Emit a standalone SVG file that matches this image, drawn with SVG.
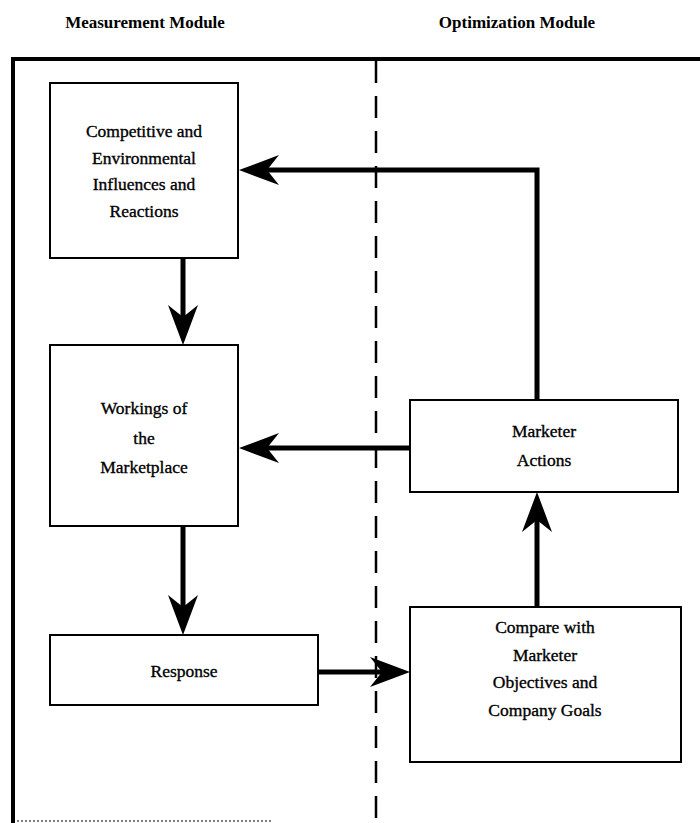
<svg xmlns="http://www.w3.org/2000/svg" width="700" height="823" viewBox="0 0 700 823">
<defs>
<style>
.t{font-family:"Liberation Serif","Times New Roman",serif;font-size:17.5px;fill:#000;stroke:#000;stroke-width:0.35;text-anchor:middle}
.h{font-family:"Liberation Serif","Times New Roman",serif;font-size:17px;font-weight:bold;fill:#000;text-anchor:middle}
.box{fill:#fff;stroke:#000;stroke-width:2}
.c{fill:none;stroke:#000;stroke-width:5}
</style>
<marker id="ah" markerUnits="userSpaceOnUse" viewBox="0 0 40 40" markerWidth="40" markerHeight="40" refX="20" refY="20" orient="auto">
<path d="M40,20 L0,5 L12,20 L0,35 Z" fill="#000"/>
</marker>
</defs>
<rect width="700" height="823" fill="#fff"/>
<g id="headers">
<text class="h" x="145" y="28">Measurement Module</text>
<text class="h" x="517" y="28">Optimization Module</text>
</g>
<g id="frame">
<line x1="11" y1="59" x2="700" y2="59" stroke="#000" stroke-width="4"/>
<line x1="13" y1="57" x2="13" y2="823" stroke="#000" stroke-width="4"/>
<line x1="376" y1="61" x2="376" y2="823" stroke="#000" stroke-width="2.5" stroke-dasharray="22,13"/>
<line x1="13" y1="821" x2="272" y2="821" stroke="#000" stroke-width="1" stroke-dasharray="2,2"/>
</g>
<g id="competitive">
<rect class="box" x="50" y="83" width="188" height="175"/>
<text class="t" x="144" y="137">Competitive and</text>
<text class="t" x="144" y="164">Environmental</text>
<text class="t" x="144" y="190">Influences and</text>
<text class="t" x="144" y="217">Reactions</text>
</g>
<g id="workings">
<rect class="box" x="50" y="345" width="188" height="181"/>
<text class="t" x="144" y="414">Workings of</text>
<text class="t" x="144" y="444">the</text>
<text class="t" x="144" y="473">Marketplace</text>
</g>
<g id="response">
<rect class="box" x="50" y="635" width="268" height="70"/>
<text class="t" x="184" y="677">Response</text>
</g>
<g id="marketer-actions">
<rect class="box" x="410" y="400" width="268" height="92"/>
<text class="t" x="544" y="437">Marketer</text>
<text class="t" x="544" y="466">Actions</text>
</g>
<g id="compare">
<rect class="box" x="410" y="607" width="271" height="155"/>
<text class="t" x="545" y="633">Compare with</text>
<text class="t" x="545" y="661">Marketer</text>
<text class="t" x="545" y="688">Objectives and</text>
<text class="t" x="545" y="716">Company Goals</text>
</g>
<g id="connectors">
<line class="c" x1="183" y1="259" x2="183" y2="325" marker-end="url(#ah)"/>
<line class="c" x1="183" y1="527" x2="183" y2="615" marker-end="url(#ah)"/>
<line class="c" x1="319" y1="672" x2="390" y2="672" marker-end="url(#ah)"/>
<line class="c" x1="537" y1="606" x2="537" y2="512" marker-end="url(#ah)"/>
<line class="c" x1="409" y1="448" x2="259" y2="448" marker-end="url(#ah)"/>
<polyline class="c" points="537,399 537,170 259,170" marker-end="url(#ah)"/>
</g>
</svg>
